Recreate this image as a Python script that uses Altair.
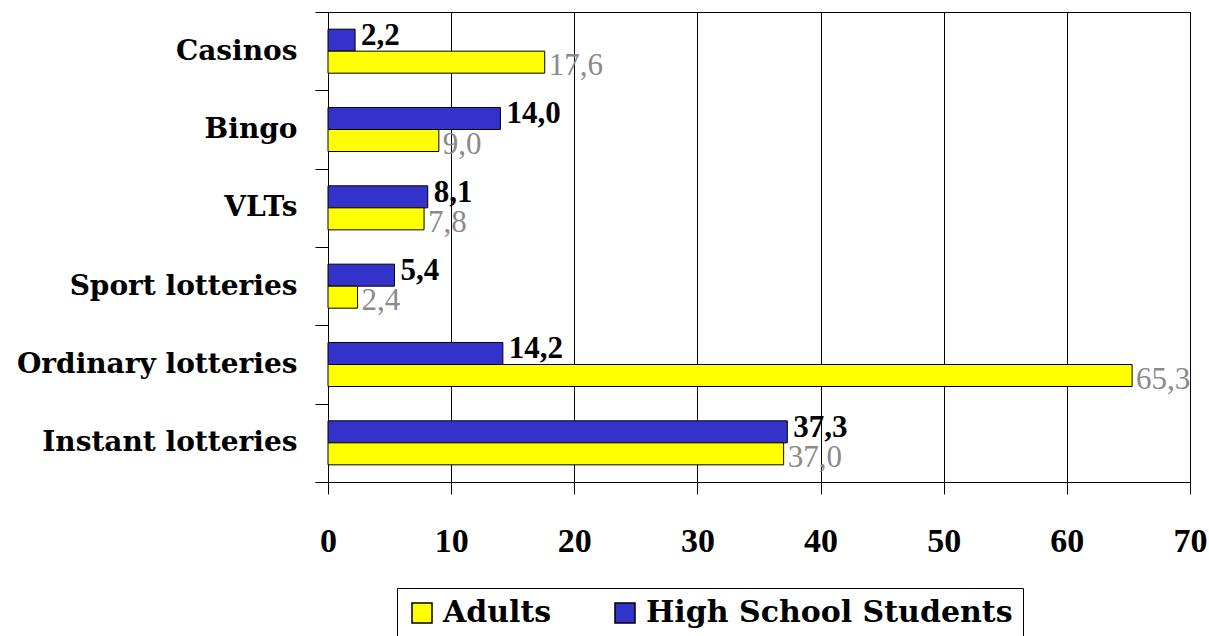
import altair as alt
import pandas as pd

categories = ["Casinos", "Bingo", "VLTs", "Sport lotteries", "Ordinary lotteries", "Instant lotteries"]
high_school = [2.2, 14.0, 8.1, 5.4, 14.2, 37.3]
adults = [17.6, 9.0, 7.8, 2.4, 65.3, 37.0]
series_names = ["Adults", "High School Students"]
bar_order = ["High School Students", "Adults"]
x_ticks = [0, 10, 20, 30, 40, 50, 60, 70]

rows = []
for c, h, a in zip(categories, high_school, adults):
    rows.append({"category": c, "series": "High School Students", "value": h})
    rows.append({"category": c, "series": "Adults", "value": a})
df = pd.DataFrame(rows)
df["label"] = df["value"].map(lambda v: f"{v:.1f}".replace(".", ","))

W, H = 862, 470
FONT = "Liberation Serif"
WIDE = "DejaVu Serif"

y_enc = alt.Y(
    "category:N", sort=categories,
    scale=alt.Scale(paddingInner=0, paddingOuter=0),
    axis=alt.Axis(title=None, tickBand="extent", tickSize=13, tickColor="black",
                  domainColor="black", labelFont=WIDE, labelFontWeight="bold",
                  labelFontSize=28, labelColor="black", labelPadding=18, grid=False,
                  labelLimit=400),
)
yoff = alt.YOffset("series:N", sort=bar_order,
                   scale=alt.Scale(paddingInner=0, paddingOuter=0.78))
x_enc = alt.X(
    "value:Q", scale=alt.Scale(domain=[0, 70], nice=False, zero=True),
    axis=alt.Axis(values=x_ticks, title=None, grid=True, gridColor="black", gridOpacity=1,
                  tickSize=12, tickColor="black", domainColor="black", labelFont=FONT,
                  labelFontWeight="bold", labelFontSize=34, labelColor="black",
                  labelPadding=30, format="d", labelFlush=False),
)

bars = alt.Chart(df).mark_bar(stroke="black", strokeWidth=1).encode(
    x=x_enc, y=y_enc, yOffset=yoff,
    color=alt.Color(
        "series:N",
        scale=alt.Scale(domain=series_names, range=["#FFFF00", "#3333CC"]),
        legend=alt.Legend(title=None, orient="none", legendX=69, legendY=576,
                          direction="horizontal", symbolType="square", symbolSize=400,
                          symbolStrokeColor="black", symbolStrokeWidth=1.5,
                          labelFont=WIDE, labelFontWeight="bold", labelFontSize=30,
                          labelColor="black", labelLimit=600, columnPadding=58,
                          labelOffset=6, strokeColor="black", padding=10,
                          fillColor="white", symbolOpacity=1),
    ),
)

hs_text = alt.Chart(df).transform_filter(
    alt.datum.series == "High School Students"
).mark_text(align="left", baseline="middle", dx=6, dy=-4, font=FONT, fontWeight="bold",
            fontSize=31, color="black").encode(
    x="value:Q", y=alt.Y("category:N", sort=categories),
    yOffset=alt.YOffset("series:N", sort=bar_order), text="label:N",
)

ad_text = alt.Chart(df).transform_filter(
    alt.datum.series == "Adults"
).mark_text(align="left", baseline="middle", dx=4, dy=4, font=FONT, fontWeight="normal",
            fontSize=31, color="#8a8a8a").encode(
    x="value:Q", y=alt.Y("category:N", sort=categories),
    yOffset=alt.YOffset("series:N", sort=bar_order), text="label:N",
)

chart = alt.layer(bars, hs_text, ad_text).properties(
    width=W, height=H,
    autosize=alt.AutoSizeParams(type="none"),
    padding={"left": 328, "top": 12, "right": 19, "bottom": 154},
    background="white",
).configure_view(stroke="black", strokeWidth=1)

chart.save("out.html", embed_options={"renderer": "svg", "actions": False})
